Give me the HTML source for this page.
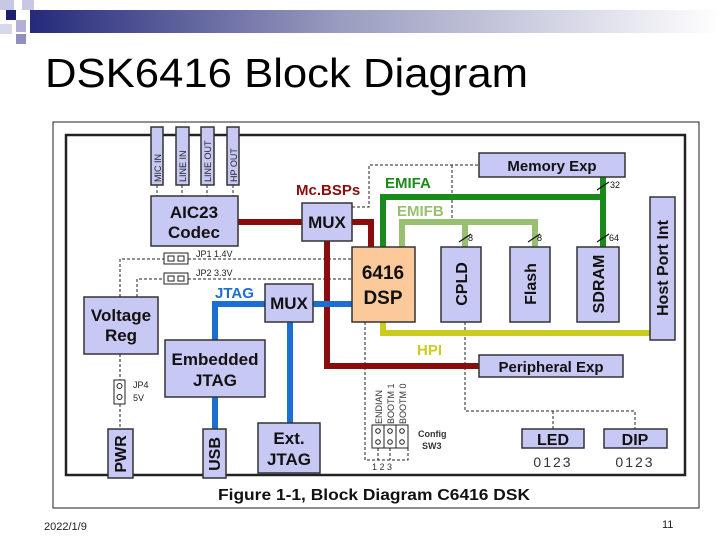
<!DOCTYPE html>
<html><head><meta charset="utf-8"><style>
html,body{margin:0;padding:0;background:#fff;}
svg{display:block;}
text{font-family:"Liberation Sans",sans-serif;}
.b{fill:#c8c8f4;stroke:#333;stroke-width:1.5;}
.t{font-weight:bold;fill:#111;text-anchor:middle;}
.d{stroke:#222;stroke-width:1;stroke-dasharray:3,2;fill:none;}
</style></head><body>
<svg width="720" height="540" viewBox="0 0 720 540" xmlns="http://www.w3.org/2000/svg">
<defs><linearGradient id="g" x1="0" x2="1"><stop offset="0" stop-color="#252a7a"/><stop offset="0.45" stop-color="#9a9cc0"/><stop offset="1" stop-color="#ffffff"/></linearGradient></defs>
<rect x="30" y="10" width="690" height="23" fill="url(#g)"/>
<rect x="0" y="0" width="14" height="10" fill="#c8c8e4"/>
<rect x="22" y="0" width="12" height="10" fill="#c8c8e4"/>
<rect x="6" y="10" width="10" height="10" fill="#1c1f70"/>
<rect x="16" y="20" width="10" height="12" fill="#b0b0d8"/>
<rect x="0" y="24" width="12" height="10" fill="#d8d8ec"/>
<rect x="16" y="34" width="10" height="10" fill="#9090c0"/>
<text x="45" y="87" font-size="41" fill="#000" textLength="483" lengthAdjust="spacingAndGlyphs">DSK6416 Block Diagram</text>

<rect x="53" y="122" width="646" height="386" fill="#fff" stroke="#222" stroke-width="1"/>
<rect x="66" y="135" width="619" height="340" fill="#fff" stroke="#222" stroke-width="2.5"/>
<text x="218" y="500" font-size="16" font-weight="bold" fill="#111" textLength="312" lengthAdjust="spacingAndGlyphs">Figure 1-1, Block Diagram C6416 DSK</text>

<!-- dashed lines -->
<path class="d" d="M157 185V196 M182 185V196 M207 185V196 M233 185V196"/>
<path class="d" d="M352 207H369V165H479 M452 165V222"/>
<path class="d" d="M120 297V259H164 M188 259H352 M137 297V279H164 M188 279H352"/>
<path class="d" d="M120 354V380 M120 404V429"/>
<path class="d" d="M365 322V460H408V448 M378 448V460 M390 448V460"/>
<path class="d" d="M465 322V411H635V429 M553 411V429"/>

<!-- buses -->
<path d="M238 222H302 M352 222H371V247 M327 241V366H479" stroke="#8a0c0c" stroke-width="6" fill="none"/>
<path d="M383 247V197H603 M603 177V247" stroke="#1a8a1a" stroke-width="6" fill="none"/>
<path d="M402 247V222H535V247 M465 222V247" stroke="#98c070" stroke-width="6" fill="none"/>
<path d="M383 322V333H650" stroke="#cccc20" stroke-width="6" fill="none"/>
<path d="M215 340V304H265 M313 304H352 M290 322V423 M215 397V429" stroke="#1a6fd0" stroke-width="6" fill="none"/>

<!-- bus width ticks -->
<g stroke="#111" stroke-width="1.2" fill="none"><path d="M597 190L609 182 M459 242L471 234 M528 242L540 234 M597 242L609 234"/></g>
<g font-size="9" fill="#111"><text x="610" y="188">32</text><text x="468" y="241">8</text><text x="537" y="241">8</text><text x="609" y="241">64</text></g>

<!-- jacks -->
<g font-size="9" fill="#222"><rect class="b" x="151" y="127" width="12" height="58"/><rect class="b" x="176" y="127" width="13" height="58"/><rect class="b" x="201" y="127" width="13" height="58"/><rect class="b" x="227" y="127" width="12" height="58"/>
<text transform="translate(161,182) rotate(-90)">MIC IN</text><text transform="translate(186,182) rotate(-90)">LINE IN</text><text transform="translate(211,182) rotate(-90)">LINE OUT</text><text transform="translate(237,182) rotate(-90)">HP OUT</text></g>

<rect class="b" x="151" y="196" width="87" height="50"/>
<text class="t" x="194" y="218" font-size="17">AIC23</text><text class="t" x="194" y="238" font-size="17">Codec</text>
<rect class="b" x="302" y="203" width="50" height="38"/><text class="t" x="327" y="228" font-size="17">MUX</text>
<text x="296" y="195" font-size="15" font-weight="bold" fill="#8a0c0c">Mc.BSPs</text>
<text x="385" y="188" font-size="15" font-weight="bold" fill="#1a8a1a">EMIFA</text>
<text x="397" y="216" font-size="15" font-weight="bold" fill="#98c070">EMIFB</text>
<text x="417" y="355" font-size="15" font-weight="bold" fill="#cccc20">HPI</text>
<text x="215" y="298" font-size="15" font-weight="bold" fill="#1a6fd0">JTAG</text>

<rect class="b" x="479" y="153" width="146" height="24"/><text class="t" x="552" y="171" font-size="15">Memory Exp</text>
<rect x="352" y="247" width="63" height="75" fill="#fcc99a" stroke="#333" stroke-width="1.5"/>
<text class="t" x="383" y="279" font-size="19">6416</text><text class="t" x="383" y="304" font-size="19">DSP</text>
<rect class="b" x="441" y="247" width="40" height="75"/><text class="t" font-size="16" transform="translate(467,284) rotate(-90)">CPLD</text>
<rect class="b" x="510" y="247" width="40" height="75"/><text class="t" font-size="16" transform="translate(536,284) rotate(-90)">Flash</text>
<rect class="b" x="577" y="247" width="42" height="75"/><text class="t" font-size="16" transform="translate(604,284) rotate(-90)">SDRAM</text>
<rect class="b" x="650" y="197" width="25" height="143"/><text class="t" font-size="16" transform="translate(668,268) rotate(-90)">Host Port Int</text>

<rect x="164" y="253" width="24" height="11" fill="#fff" stroke="#222"/><rect x="164" y="273" width="24" height="11" fill="#fff" stroke="#222"/>
<g fill="none" stroke="#222"><rect x="168" y="256" width="6" height="5"/><rect x="178" y="256" width="6" height="5"/><rect x="168" y="276" width="6" height="5"/><rect x="178" y="276" width="6" height="5"/></g>
<text x="196" y="257" font-size="9" fill="#222">JP1 1.4V</text><text x="196" y="276" font-size="9" fill="#222">JP2 3.3V</text>

<rect class="b" x="84" y="297" width="74" height="57"/><text class="t" x="121" y="321" font-size="17">Voltage</text><text class="t" x="121" y="341" font-size="17">Reg</text>
<rect class="b" x="265" y="284" width="48" height="38"/><text class="t" x="289" y="309" font-size="17">MUX</text>
<rect class="b" x="165" y="340" width="100" height="57"/><text class="t" x="215" y="365" font-size="17">Embedded</text><text class="t" x="215" y="386" font-size="17">JTAG</text>

<rect x="114" y="380" width="11" height="24" fill="#fff" stroke="#222"/><circle cx="119.5" cy="386" r="2.5" fill="none" stroke="#222"/><circle cx="119.5" cy="397" r="2.5" fill="none" stroke="#222"/>
<text x="133" y="388" font-size="9" fill="#222">JP4</text><text x="133" y="401" font-size="9" fill="#222">5V</text>

<rect class="b" x="108" y="429" width="25" height="49"/><text class="t" font-size="16" transform="translate(126,454) rotate(-90)">PWR</text>
<rect class="b" x="203" y="429" width="23" height="49"/><text class="t" font-size="16" transform="translate(220,454) rotate(-90)">USB</text>
<rect class="b" x="258" y="423" width="62" height="50"/><text class="t" x="289" y="444" font-size="17">Ext.</text><text class="t" x="289" y="465" font-size="17">JTAG</text>

<rect class="b" x="479" y="355" width="144" height="22"/><text class="t" x="551" y="372" font-size="15">Peripheral Exp</text>

<g font-size="9" fill="#333"><text transform="translate(382,424) rotate(-90)">ENDIAN</text><text transform="translate(394,424) rotate(-90)">BOOTM 1</text><text transform="translate(406,424) rotate(-90)">BOOTM 0</text></g>
<rect x="372" y="425" width="36" height="23" fill="#fff" stroke="#222"/>
<g fill="none" stroke="#222"><path d="M384 425V448 M396 425V448"/><circle cx="378" cy="431" r="2.3"/><circle cx="378" cy="442" r="2.3"/><circle cx="390" cy="431" r="2.3"/><circle cx="390" cy="442" r="2.3"/><circle cx="402" cy="431" r="2.3"/><circle cx="402" cy="442" r="2.3"/></g>
<text x="418" y="437" font-size="9" font-weight="bold" fill="#333">Config</text><text x="422" y="449" font-size="9" font-weight="bold" fill="#333">SW3</text>
<text x="372" y="470" font-size="9" fill="#333">1  2  3</text>

<rect class="b" x="522" y="429" width="62" height="19"/><text class="t" x="553" y="445" font-size="16">LED</text>
<rect class="b" x="604" y="429" width="63" height="19"/><text class="t" x="635" y="445" font-size="16">DIP</text>
<text x="553" y="467" font-size="14" text-anchor="middle" fill="#333" letter-spacing="2">0123</text>
<text x="635" y="467" font-size="14" text-anchor="middle" fill="#333" letter-spacing="2">0123</text>

<text x="44" y="530" font-size="11" fill="#222">2022/1/9</text>
<text x="662" y="528" font-size="11" fill="#222">11</text>
</svg>
</body></html>
